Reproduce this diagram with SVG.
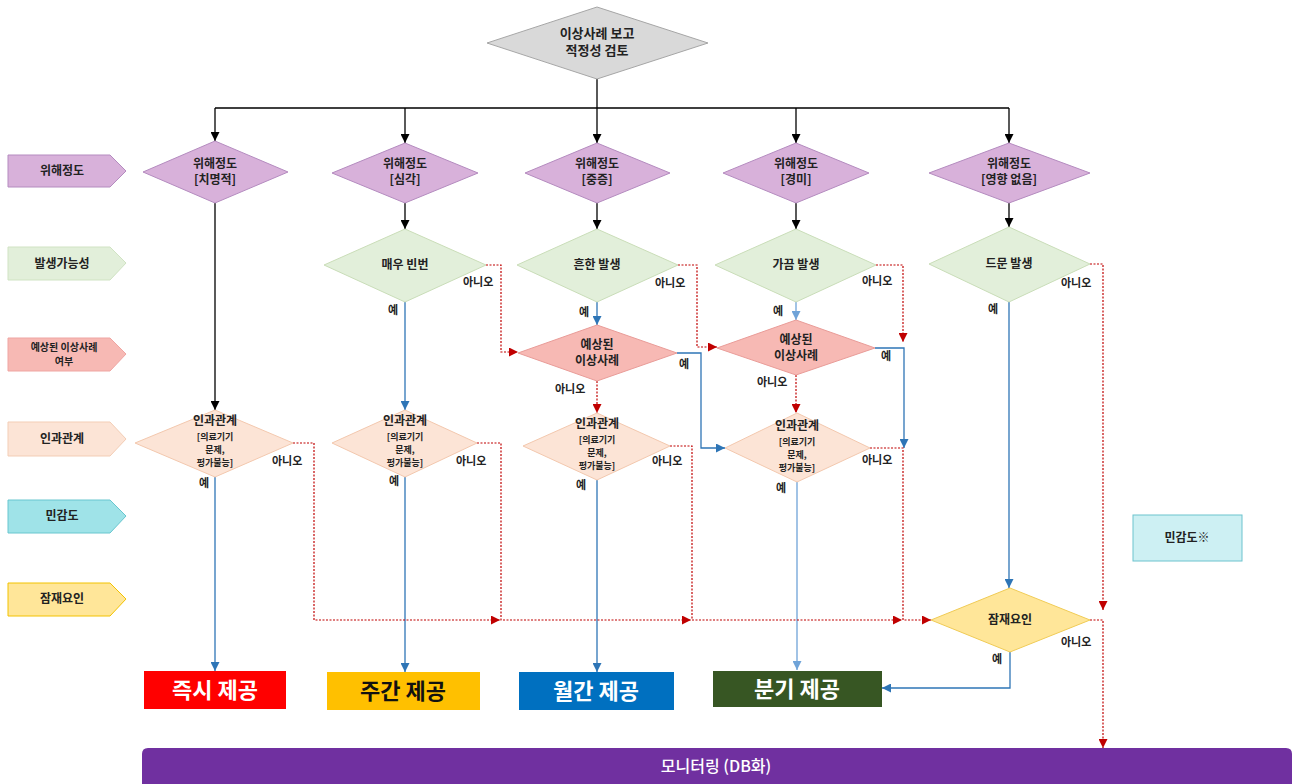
<svg xmlns="http://www.w3.org/2000/svg" width="1292" height="784" viewBox="0 0 1292 784">
<defs>
<style>
text{font-family:"Noto Sans CJK KR","Noto Sans",sans-serif;fill:#222;}
.t{font-size:12px;font-weight:700;text-anchor:middle;}
.ts{font-size:10px;font-weight:700;text-anchor:middle;}
.tx{font-size:9px;font-weight:700;text-anchor:middle;}
.yn{font-size:11px;font-weight:700;}
.big{font-size:22px;font-weight:700;text-anchor:middle;fill:#fff;}
.gray{fill:#D9D9D9;stroke:#A6A6A6;stroke-width:1;}
.sev{fill:#D8B1DA;stroke:#B48BBF;stroke-width:1;}
.freq{fill:#E2EFDA;stroke:#C9DDB8;stroke-width:1;}
.exp{fill:#F7B9B4;stroke:#E99C98;stroke-width:1;}
.cau{fill:#FCE4D6;stroke:#F3C8AE;stroke-width:1;}
.pot{fill:#FFE699;stroke:#F0CB55;stroke-width:1;}
.k{fill:none;stroke:#000;stroke-width:1.3;}
.b{fill:none;stroke:#2E75B6;stroke-width:1.3;}
.lb{fill:none;stroke:#6FA3D8;stroke-width:1.3;}
.r{fill:none;stroke:#C00000;stroke-width:1.2;stroke-dasharray:2 1.5;}
</style>
<marker id="ak" viewBox="0 0 10 10" refX="10" refY="5" markerWidth="9" markerHeight="9" markerUnits="userSpaceOnUse" orient="auto"><path d="M0,0L10,5L0,10z" fill="#000"/></marker>
<marker id="ab" viewBox="0 0 10 10" refX="10" refY="5" markerWidth="9" markerHeight="9" markerUnits="userSpaceOnUse" orient="auto"><path d="M0,0L10,5L0,10z" fill="#2E75B6"/></marker>
<marker id="alb" viewBox="0 0 10 10" refX="10" refY="5" markerWidth="9" markerHeight="9" markerUnits="userSpaceOnUse" orient="auto"><path d="M0,0L10,5L0,10z" fill="#6FA3D8"/></marker>
<marker id="ar" viewBox="0 0 10 10" refX="10" refY="5" markerWidth="9" markerHeight="9" markerUnits="userSpaceOnUse" orient="auto"><path d="M0,0L10,5L0,10z" fill="#C00000"/></marker>
</defs>
<rect width="1292" height="784" fill="#fff"/>

<!-- left legend labels -->
<g id="lg-sev"><polygon points="8,155 110,155 126,171 110,187 8,187" fill="#D8B1DA" stroke="#B48BBF"/><text class="t" x="62" y="175">위해정도</text></g>
<g id="lg-freq"><polygon points="8,247 110,247 126,263 110,280 8,280" fill="#E2EFDA" stroke="#D0E3C3"/><text class="t" x="62" y="268">발생가능성</text></g>
<g id="lg-exp"><polygon points="8,338 110,338 126,354 110,371 8,371" fill="#F7B9B4" stroke="#EFA5A2"/><text class="ts" x="64" y="351">예상된 이상사례</text><text class="ts" x="64" y="365">여부</text></g>
<g id="lg-cau"><polygon points="8,422 110,422 126,439 110,456 8,456" fill="#FCE4D6" stroke="#F3CDB5"/><text class="t" x="62" y="443">인과관계</text></g>
<g id="lg-sen"><polygon points="8,500 110,500 126,516 110,533 8,533" fill="#9FE3E8" stroke="#68C6CF"/><text class="t" x="62" y="520">민감도</text></g>
<g id="lg-pot"><polygon points="8,583 110,583 126,599 110,616 8,616" fill="#FFE699" stroke="#F2C200"/><text class="t" x="62" y="603">잠재요인</text></g>

<!-- connectors -->
<g id="connectors">
<path class="k" d="M597,79V108M215,108H1009"/>
<path class="k" d="M215,108V141" marker-end="url(#ak)"/>
<path class="k" d="M405,108V143" marker-end="url(#ak)"/>
<path class="k" d="M597,108V143" marker-end="url(#ak)"/>
<path class="k" d="M796,108V143" marker-end="url(#ak)"/>
<path class="k" d="M1009,108V143" marker-end="url(#ak)"/>
<path class="k" d="M405,203V229" marker-end="url(#ak)"/>
<path class="k" d="M597,203V229" marker-end="url(#ak)"/>
<path class="k" d="M796,203V229" marker-end="url(#ak)"/>
<path class="k" d="M1009,203V227" marker-end="url(#ak)"/>
<path class="k" d="M215,203V410" marker-end="url(#ak)"/>

<path class="b" d="M405,302V410" marker-end="url(#ab)"/>
<path class="b" d="M597,302V325" marker-end="url(#ab)"/>
<path class="lb" d="M796,302V320" marker-end="url(#alb)"/>
<path class="b" d="M1009,302V588" marker-end="url(#ab)"/>
<path class="b" d="M677,353H701V448H725" marker-end="url(#ab)"/>
<path class="b" d="M875,348H904V448" marker-end="url(#ab)"/>
<path class="b" d="M215,477V671" marker-end="url(#ab)"/>
<path class="b" d="M405,477V672" marker-end="url(#ab)"/>
<path class="b" d="M597,480V672" marker-end="url(#ab)"/>
<path class="lb" d="M797,482V670" marker-end="url(#alb)"/>
<path class="b" d="M1010,652V688H882" marker-end="url(#ab)"/>

<path class="r" d="M486,265H501V352H518" marker-end="url(#ar)"/>
<path class="r" d="M678,265H697V347H717" marker-end="url(#ar)"/>
<path class="r" d="M876,265H903V342" marker-end="url(#ar)"/>
<path class="r" d="M597,381V413" marker-end="url(#ar)"/>
<path class="r" d="M796,375V413" marker-end="url(#ar)"/>
<path class="r" d="M293,443H314V620H500" marker-end="url(#ar)"/>
<path class="r" d="M477,443H501V620H691" marker-end="url(#ar)"/>
<path class="r" d="M670,446H692V620H902" marker-end="url(#ar)"/>
<path class="r" d="M870,448H903V620H931" marker-end="url(#ar)"/>
<path class="r" d="M1090,264H1103V610" marker-end="url(#ar)"/>
<path class="r" d="M1090,620H1103V748" marker-end="url(#ar)"/>

<text class="yn" x="463" y="286">아니오</text>
<text class="yn" x="388" y="314">예</text>
<text class="yn" x="655" y="287">아니오</text>
<text class="yn" x="579" y="316">예</text>
<text class="yn" x="862" y="285">아니오</text>
<text class="yn" x="773" y="315">예</text>
<text class="yn" x="1061" y="287">아니오</text>
<text class="yn" x="988" y="313">예</text>
<text class="yn" x="679" y="368">예</text>
<text class="yn" x="555" y="393">아니오</text>
<text class="yn" x="881" y="360">예</text>
<text class="yn" x="757" y="386">아니오</text>
<text class="yn" x="272" y="465">아니오</text>
<text class="yn" x="199" y="487">예</text>
<text class="yn" x="456" y="465">아니오</text>
<text class="yn" x="389" y="485">예</text>
<text class="yn" x="652" y="465">아니오</text>
<text class="yn" x="576" y="489">예</text>
<text class="yn" x="862" y="464">아니오</text>
<text class="yn" x="776" y="492">예</text>
<text class="yn" x="1061" y="646">아니오</text>
<text class="yn" x="992" y="663">예</text>
</g>

<!-- nodes -->
<g id="start"><polygon class="gray" points="487,43 597,7 708,43 597,79"/><text class="t" x="597" y="38" style="font-size:13px">이상사례 보고</text><text class="t" x="597" y="55" style="font-size:13px">적정성 검토</text></g>

<g id="sev1"><polygon class="sev" points="143,172 215,141 288,172 215,203"/><text class="t" x="215" y="168">위해정도</text><text class="t" x="215" y="184">[치명적]</text></g>
<g id="sev2"><polygon class="sev" points="332,173 405,143 478,173 405,203"/><text class="t" x="405" y="168">위해정도</text><text class="t" x="405" y="184">[심각]</text></g>
<g id="sev3"><polygon class="sev" points="525,173 597,143 670,173 597,203"/><text class="t" x="597" y="168">위해정도</text><text class="t" x="597" y="184">[중증]</text></g>
<g id="sev4"><polygon class="sev" points="723,173 796,143 869,173 796,203"/><text class="t" x="796" y="168">위해정도</text><text class="t" x="796" y="184">[경미]</text></g>
<g id="sev5"><polygon class="sev" points="929,173 1009,143 1090,173 1009,203"/><text class="t" x="1009" y="168">위해정도</text><text class="t" x="1009" y="184">[영향 없음]</text></g>

<g id="freq2"><polygon class="freq" points="324,265 405,229 486,265 405,302"/><text class="t" x="405" y="269">매우 빈번</text></g>
<g id="freq3"><polygon class="freq" points="517,265 597,229 678,265 597,302"/><text class="t" x="597" y="269">흔한 발생</text></g>
<g id="freq4"><polygon class="freq" points="715,265 796,229 876,265 796,302"/><text class="t" x="796" y="269">가끔 발생</text></g>
<g id="freq5"><polygon class="freq" points="929,264 1009,227 1090,264 1009,302"/><text class="t" x="1009" y="268">드문 발생</text></g>

<g id="exp3"><polygon class="exp" points="518,353 597,325 677,353 597,381"/><text class="t" x="597" y="349">예상된</text><text class="t" x="597" y="365">이상사례</text></g>
<g id="exp4"><polygon class="exp" points="717,348 796,320 875,348 796,375"/><text class="t" x="796" y="344">예상된</text><text class="t" x="796" y="360">이상사례</text></g>

<g id="cau1"><polygon class="cau" points="135,443 215,410 293,443 215,477"/><text class="t" x="215" y="425">인과관계</text><text class="tx" x="215" y="440">[의료기기</text><text class="tx" x="215" y="453">문제,</text><text class="tx" x="215" y="466">평가불능]</text></g>
<g id="cau2"><polygon class="cau" points="332,443 405,410 477,443 405,477"/><text class="t" x="405" y="425">인과관계</text><text class="tx" x="405" y="440">[의료기기</text><text class="tx" x="405" y="453">문제,</text><text class="tx" x="405" y="466">평가불능]</text></g>
<g id="cau3"><polygon class="cau" points="523,446 597,413 670,446 597,480"/><text class="t" x="597" y="428">인과관계</text><text class="tx" x="597" y="443">[의료기기</text><text class="tx" x="597" y="456">문제,</text><text class="tx" x="597" y="469">평가불능]</text></g>
<g id="cau4"><polygon class="cau" points="725,448 797,413 870,448 797,482"/><text class="t" x="797" y="430">인과관계</text><text class="tx" x="797" y="445">[의료기기</text><text class="tx" x="797" y="458">문제,</text><text class="tx" x="797" y="471">평가불능]</text></g>

<g id="pot"><polygon class="pot" points="931,620 1010,588 1090,620 1010,652"/><text class="t" x="1010" y="624">잠재요인</text></g>

<g id="sens-note"><rect x="1133" y="515" width="109" height="46" fill="#CDF0F3" stroke="#6CC3CE" stroke-width="1"/><text class="t" x="1187" y="542">민감도※</text></g>

<g id="out1"><rect x="144" y="671" width="142" height="38" fill="#FF0000"/><text class="big" x="215" y="698">즉시 제공</text></g>
<g id="out2"><rect x="327" y="672" width="153" height="38" fill="#FFC000"/><text class="big" x="403" y="699" style="fill:#111">주간 제공</text></g>
<g id="out3"><rect x="519" y="672" width="155" height="38" fill="#0070C0"/><text class="big" x="596" y="699">월간 제공</text></g>
<g id="out4"><rect x="713" y="671" width="169" height="36" fill="#375623"/><text class="big" x="797" y="697">분기 제공</text></g>

<g id="monitor"><path d="M142,784V754Q142,748 148,748H1286Q1292,748 1292,754V784Z" fill="#7030A0"/><text x="716" y="772" style="font-size:16px;font-weight:500;fill:#fff;text-anchor:middle">모니터링 (DB화)</text></g>
</svg>
